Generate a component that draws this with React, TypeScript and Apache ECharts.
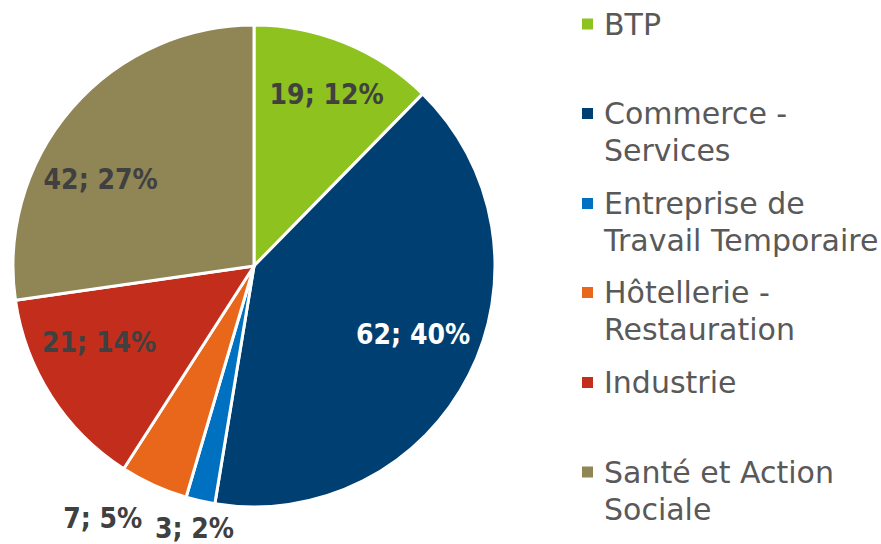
import { useEffect, useRef } from 'react';
import * as echarts from 'echarts';

const categories = [
  'BTP',
  'Commerce - Services',
  'Entreprise de Travail Temporaire',
  'Hôtellerie - Restauration',
  'Industrie',
  'Santé et Action Sociale',
];
const legendLines = [
  ['BTP'],
  ['Commerce -', 'Services'],
  ['Entreprise de', 'Travail Temporaire'],
  ['Hôtellerie -', 'Restauration'],
  ['Industrie'],
  ['Santé et Action', 'Sociale'],
];
const counts = [19, 62, 3, 7, 21, 42];
const colors = ['#8DC21F', '#003F71', '#0070C0', '#E8671B', '#C22E1B', '#8F8555'];
const labelColors = ['#404040', '#ffffff', '#404040', '#404040', '#404040', '#404040'];

// layout constants (not data)
const LABEL_FONT = '"DejaVu Sans Condensed", "DejaVu Sans", sans-serif';
const LEGEND_FONT = '"DejaVu Sans", sans-serif';
const LH = 37;
const markerCenters = [24, 113.5, 203.5, 292.5, 382.5, 472];
const labelNudges = [
  [26, -57],
  [49, 13],
  [-32, 142],
  [-100, 140],
  [-51, 10],
  [-60, -6],
];

export default function App() {
  const ref = useRef<HTMLDivElement>(null);
  useEffect(() => {
    if (!ref.current) return;
    const chart = echarts.init(ref.current, undefined, { renderer: 'svg' });
    const legends = categories.map((name, i) => {
      const lines = legendLines[i];
      // leading blank lines so that the first text line sits on the marker
      const shown = lines.length > 1 ? [...lines.slice(1).map(() => ''), ...lines] : lines;
      const boxH = shown.length * LH;
      return {
        data: [name],
        left: 580,
        top: markerCenters[i] - boxH / 2,
        orient: 'vertical',
        padding: 0,
        itemWidth: 13,
        itemHeight: 13,
        icon: 'rect',
        selectedMode: false,
        formatter: () => shown.join('\n'),
        textStyle: {
          fontFamily: LEGEND_FONT,
          fontSize: 30,
          lineHeight: LH,
          color: '#595959',
          padding: [0, 0, 0, 5],
        },
      };
    });
    chart.setOption({
      animation: false,
      backgroundColor: '#ffffff',
      color: colors,
      legend: legends,
      series: [
        {
          type: 'pie',
          center: [254, 266],
          radius: 241,
          startAngle: 90,
          clockwise: true,
          avoidLabelOverlap: false,
          emphasis: { disabled: true },
          itemStyle: { borderColor: '#ffffff', borderWidth: 3 },
          label: {
            show: true,
            position: 'inside',
            fontFamily: LABEL_FONT,
            fontWeight: 'bold',
            fontSize: 28,
            color: '#404040',
            formatter: (p: any) => `${p.value}; ${Math.round(p.percent)}%`,
          },
          labelLine: { show: false },
          labelLayout: (p: any) => ({
            dx: labelNudges[p.dataIndex][0],
            dy: labelNudges[p.dataIndex][1],
          }),
          data: categories.map((name, i) => ({
            name,
            value: counts[i],
            label: { color: labelColors[i] },
          })),
        },
      ],
    });
    return () => chart.dispose();
  }, []);
  return (
    <div style={{ position: 'fixed', left: 0, top: 0 }}>
      <div ref={ref} style={{ width: 881, height: 544 }} />
    </div>
  );
}
